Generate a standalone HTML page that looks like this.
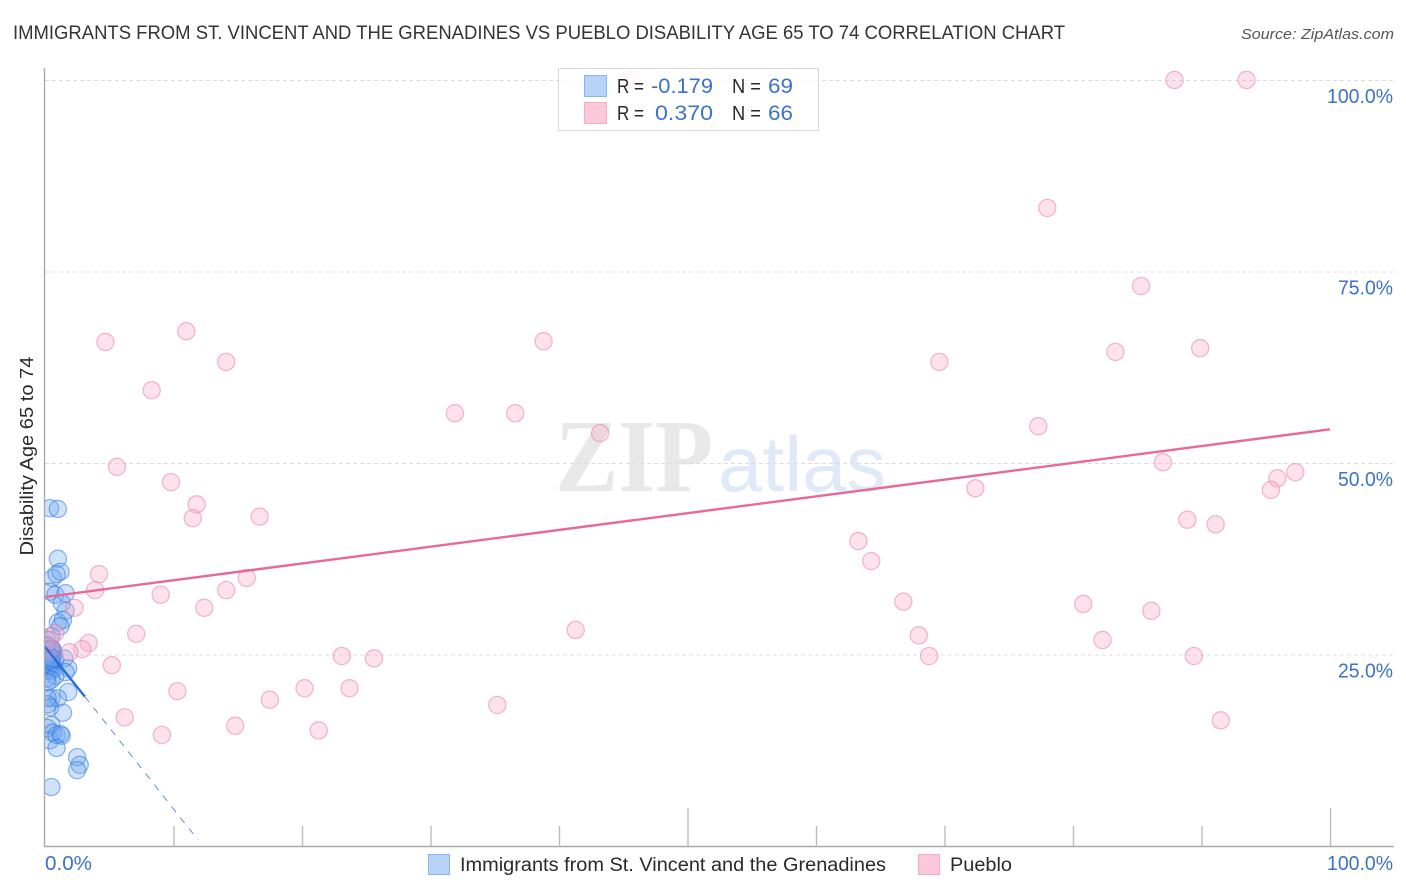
<!DOCTYPE html>
<html lang="en">
<head>
<meta charset="utf-8">
<title>Correlation Chart</title>
<style>
html,body{margin:0;padding:0;background:#fff;width:1406px;height:892px;overflow:hidden}
svg{display:block;font-family:"Liberation Sans",sans-serif}
</style>
</head>
<body>
<svg id="chart" xmlns="http://www.w3.org/2000/svg" width="1406" height="892" viewBox="0 0 1406 892">
  <defs><clipPath id="plot-clip"><rect x="45" y="60" width="1349" height="786"/></clipPath></defs>
  <text x="13" y="39" font-size="19" fill="#333338" textLength="1052" lengthAdjust="spacingAndGlyphs">IMMIGRANTS FROM ST. VINCENT AND THE GRENADINES VS PUEBLO DISABILITY AGE 65 TO 74 CORRELATION CHART</text>
  <text x="1394" y="39" font-size="15" font-style="italic" fill="#555" text-anchor="end" textLength="153" lengthAdjust="spacingAndGlyphs">Source: ZipAtlas.com</text>
  <g id="watermark">
    <text x="555" y="491" font-family="'Liberation Serif',serif" font-weight="bold" font-size="104" fill="#e8e8e8" textLength="158" lengthAdjust="spacingAndGlyphs">ZIP</text>
    <text x="718" y="491" font-size="78" fill="#dfe9f8" textLength="168" lengthAdjust="spacingAndGlyphs">atlas</text>
  </g>
  <g id="grid"></g>
  <g id="pts-blue" clip-path="url(#plot-clip)"></g>
  <g id="pts-pink" clip-path="url(#plot-clip)"></g>
  <g id="trends"></g>
  <g id="axes"></g>
  <text transform="translate(33,456) rotate(-90)" font-size="18" fill="#2a2a2e" text-anchor="middle" textLength="199" lengthAdjust="spacingAndGlyphs">Disability Age 65 to 74</text>

  <g>
    <rect x="558.5" y="68.5" width="260" height="62" fill="#fff" fill-opacity="0.84" stroke="#d8d8d8" stroke-width="1"/>
    <rect x="584.5" y="75.5" width="22" height="21" fill="#b8d3f8" stroke="#8ab4ec"/>
    <rect x="584.5" y="102.5" width="22" height="21" fill="#fdc8da" stroke="#f3acc4"/>
    <text x="617" y="93" font-size="20" fill="#2a2a2e" textLength="27" lengthAdjust="spacingAndGlyphs">R =</text>
    <text x="713" y="93" font-size="21" fill="#3b72cc" text-anchor="end" textLength="62" lengthAdjust="spacingAndGlyphs">-0.179</text>
    <text x="732" y="93" font-size="20" fill="#2a2a2e" textLength="29" lengthAdjust="spacingAndGlyphs">N =</text>
    <text x="768" y="93" font-size="21" fill="#3b72cc" textLength="25" lengthAdjust="spacingAndGlyphs">69</text>
    <text x="617" y="120" font-size="20" fill="#2a2a2e" textLength="27" lengthAdjust="spacingAndGlyphs">R =</text>
    <text x="713" y="120" font-size="21" fill="#3b72cc" text-anchor="end" textLength="58" lengthAdjust="spacingAndGlyphs">0.370</text>
    <text x="732" y="120" font-size="20" fill="#2a2a2e" textLength="29" lengthAdjust="spacingAndGlyphs">N =</text>
    <text x="768" y="120" font-size="21" fill="#3b72cc" textLength="25" lengthAdjust="spacingAndGlyphs">66</text>
  </g>

  <g>
    <rect x="428.5" y="854.5" width="21" height="20" fill="#b8d3f8" stroke="#8ab4ec"/>
    <text x="460" y="871" font-size="19" fill="#2a2a2e" textLength="426" lengthAdjust="spacingAndGlyphs">Immigrants from St. Vincent and the Grenadines</text>
    <rect x="918.5" y="854.5" width="21" height="20" fill="#fdc8da" stroke="#f3acc4"/>
    <text x="950" y="871" font-size="19" fill="#2a2a2e" textLength="62" lengthAdjust="spacingAndGlyphs">Pueblo</text>
  </g>
</svg>
<script>
const xTickValues = [0, 10, 20, 30, 40, 50, 60, 70, 80, 90, 100];
const yTickValues = [25, 50, 75, 100];
const yTickLabels = ["25.0%", "50.0%", "75.0%", "100.0%"];
const xEndLabels = ["0.0%", "100.0%"];

const immigrantsX = [0.4,1.0,1.0,0.6,1.2,0.9,0.4,0.8,1.6,1.3,1.6,1.0,1.4,1.2,0.5,0.2,0.2,0.5,0.1,0.4,0.7,0.15,0.45,0.3,0.8,0.1,0.5,0.2,0.7,0.3,0.6,0.1,0.4,0.15,0.5,0.1,0.3,0.25,0.35,0.2,0.45,0.1,0.55,1.5,1.8,1.6,0.8,0.15,0.5,0.2,1.8,0.5,1.0,0.2,0.4,0.2,1.4,0.5,0.2,0.4,0.6,0.9,1.3,1.2,0.9,2.5,2.7,2.5,0.5];
const immigrantsY = [44.1,44.0,37.5,35.0,35.8,35.5,33.2,32.8,33.0,31.7,30.7,29.2,29.5,28.7,27.4,26.9,26.2,25.8,25.6,25.3,25.1,24.8,24.7,24.3,24.3,24.0,23.9,23.5,23.2,25.0,25.6,23.8,23.4,22.9,22.9,26.2,24.9,24.1,23.7,24.5,24.2,24.6,24.5,24.5,23.2,22.7,22.2,21.9,21.7,21.4,20.1,19.3,19.3,19.3,18.1,18.5,17.4,15.8,15.4,13.8,14.8,14.5,14.4,14.6,12.8,11.6,10.6,9.9,7.7];

const puebloX = [45.6,87.9,93.5,78.0,85.3,4.7,11.0,14.1,8.3,38.8,69.6,83.3,89.9,31.9,36.6,43.2,77.3,5.6,9.8,11.8,11.5,16.7,72.4,87.0,97.3,95.9,95.4,88.9,91.1,63.3,64.3,4.2,3.9,15.7,14.1,9.0,12.4,66.8,80.8,86.1,7.1,41.3,68.0,82.3,3.4,2.9,1.9,5.2,23.1,25.6,68.8,89.4,10.3,20.2,23.7,17.5,35.2,6.2,14.8,21.3,9.1,91.5,2.3,0.8,0.4,0.4];
const puebloY = [100,100,100,83.3,73.1,65.8,67.2,63.2,59.5,65.9,63.2,64.5,65.0,56.5,56.5,53.9,54.8,49.5,47.5,44.6,42.8,43.0,46.7,50.1,48.8,48.0,46.5,42.6,42.0,39.8,37.2,35.5,33.4,35.0,33.4,32.8,31.1,31.9,31.6,30.7,27.7,28.2,27.5,26.9,26.5,25.7,25.3,23.6,24.8,24.5,24.8,24.8,20.2,20.6,20.6,19.1,18.4,16.8,15.7,15.1,14.5,16.4,31.1,27.8,26.9,25.6];

const puebloTrendX = [0, 100];
const puebloTrendY = [32.5, 54.4];
const immigrantsSolidX = [0, 3.1];
const immigrantsSolidY = [26.0, 19.5];
const immigrantsDashX = [3.1, 11.9];
const immigrantsDashY = [19.5, 0.8];

const NS = 'http://www.w3.org/2000/svg';
const xScale = v => 45 + v * 12.85;
const yScale = v => 846 - v * 7.66;

function drawPoints(groupId, xs, ys, fill, stroke, name) {
  const g = document.getElementById(groupId);
  xs.forEach((x, i) => {
    const c = document.createElementNS(NS, 'circle');
    
    
    c.setAttribute('cx', xScale(x));
    c.setAttribute('cy', yScale(ys[i]));
    c.setAttribute('r', 8.6);
    c.setAttribute('fill', fill);
    c.setAttribute('stroke', stroke);
    c.setAttribute('stroke-width', 1.2);
    g.appendChild(c);
  });
}
drawPoints('pts-blue', immigrantsX, immigrantsY, 'rgba(110,165,240,0.32)', 'rgba(45,120,220,0.55)', 'immigrants-point');
drawPoints('pts-pink', puebloX, puebloY, 'rgba(248,170,198,0.35)', 'rgba(230,125,165,0.55)', 'pueblo-point');

function makeLine(parent, x1, y1, x2, y2, stroke, width, name, dash) {
  const l = document.createElementNS(NS, 'line');
  
  
  l.setAttribute('x1', x1);
  l.setAttribute('y1', y1);
  l.setAttribute('x2', x2);
  l.setAttribute('y2', y2);
  l.setAttribute('stroke', stroke);
  l.setAttribute('stroke-width', width);
  if (dash) l.setAttribute('stroke-dasharray', dash);
  parent.appendChild(l);
}

function makeText(parent, x, y, str, anchor, name, len) {
  const t = document.createElementNS(NS, 'text');
  
  
  t.setAttribute('x', x);
  t.setAttribute('y', y);
  t.setAttribute('font-size', 20);
  t.setAttribute('fill', '#3b72cc');
  t.setAttribute('text-anchor', anchor);
  t.setAttribute('textLength', len);
  t.setAttribute('lengthAdjust', 'spacingAndGlyphs');
  t.textContent = str;
  parent.appendChild(t);
}

const grid = document.getElementById('grid');
yTickValues.forEach(v => {
  makeLine(grid, 45, yScale(v) + 0.5, 1394, yScale(v) + 0.5, '#dcdcdc', 1, 'y-gridline', '4 3');
});

const trends = document.getElementById('trends');
makeLine(trends, xScale(puebloTrendX[0]), yScale(puebloTrendY[0]), xScale(puebloTrendX[1]), yScale(puebloTrendY[1]), '#e8689a', 2.4, 'pueblo-trend-line');
makeLine(trends, xScale(immigrantsSolidX[0]), yScale(immigrantsSolidY[0]), xScale(immigrantsSolidX[1]), yScale(immigrantsSolidY[1]), '#2a6fd6', 2.4, 'immigrants-trend-line');
makeLine(trends, xScale(immigrantsDashX[0]), yScale(immigrantsDashY[0]), xScale(immigrantsDashX[1]), yScale(immigrantsDashY[1]), '#5a8fdc', 1, 'immigrants-trend-extension', '7 7');

const axes = document.getElementById('axes');
makeLine(axes, 44.5, 68, 44.5, 846.5, '#aaaaaa', 1.4, 'y-axis-line');
makeLine(axes, 44, 846.5, 1394, 846.5, '#aaaaaa', 1.4, 'x-axis-line');
xTickValues.forEach(v => {
  if (v === 0) return;
  const top = v % 50 === 0 ? 808 : 826;
  makeLine(axes, xScale(v) + 0.5, top, xScale(v) + 0.5, 846, '#bbbbbb', 1.4, 'x-tick');
});
yTickValues.forEach((v, i) => {
  makeText(axes, 1393, yScale(v) + 23, yTickLabels[i], 'end', 'y-tick-label', v === 100 ? 66 : 55);
});
makeText(axes, 45, 870, xEndLabels[0], 'start', 'x-tick-label-start', 47);
makeText(axes, 1393, 870, xEndLabels[1], 'end', 'x-tick-label-end', 66);
</script>
</body>
</html>
